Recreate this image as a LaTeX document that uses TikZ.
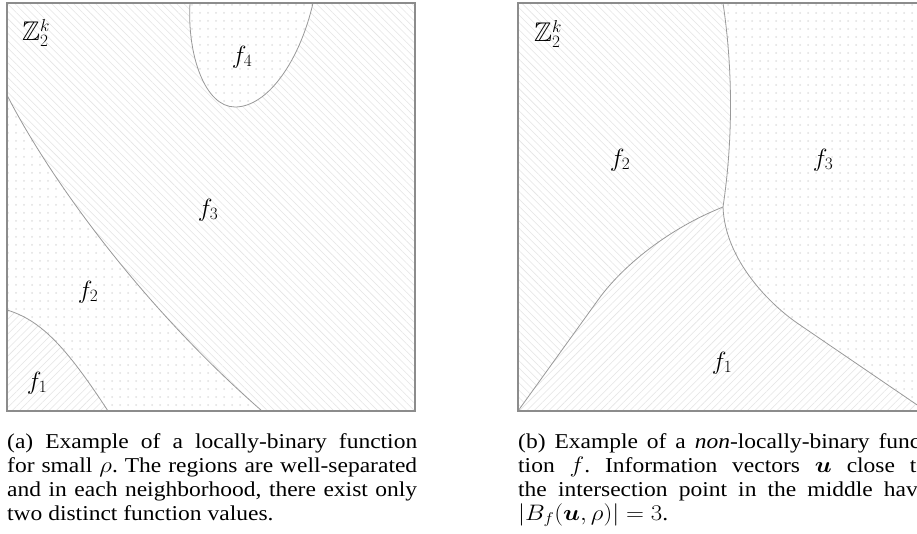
\documentclass[tikz,border=0pt]{standalone}
\usepackage{amsmath}
\usepackage{amssymb}
\usepackage{graphicx}
\usepackage{fontspec}
\setmainfont{Liberation Serif}
\usetikzlibrary{patterns.meta}
\tikzset{
  panelbox/.style = {draw=black!45, line width=1.4pt},
  cutline/.style  = {draw=black!40, line width=0.8pt},
  hatchnw/.style  = {preaction={fill=white},
                     pattern={Lines[angle=-45,distance=5.2pt,line width=0.55pt]},
                     pattern color=black!10},
  hatchne/.style  = {preaction={fill=white},
                     pattern={Lines[angle=45,distance=5.2pt,line width=0.55pt]},
                     pattern color=black!10},
  dotsfill/.style = {preaction={fill=white},
                     pattern={Dots[distance=8pt,radius=1pt]},
                     pattern color=black!12},
  fval/.style     = {font=\fontsize{27}{27}\selectfont, inner sep=0pt},
  capt/.style     = {anchor=base west, inner sep=0pt}
}
\newcommand{\capbox}[1]{\scalebox{1}[0.9]{\parbox[t]{410pt}{\frenchspacing\fontsize{23.5}{26.7}\selectfont #1}}}

\begin{document}
\begin{tikzpicture}[x=1pt,y=-1pt]
  \useasboundingbox (0,0) rectangle (917,533);
  \clip (0,0) rectangle (917,533);

  % (a) locally-binary
  \coordinate (a-tl) at (7,3);
  \coordinate (a-br) at (415,411);
  \coordinate (a-23) at (7,95);
  \coordinate (a-32) at (262,411);
  \coordinate (a-12) at (7,310);
  \coordinate (a-21) at (108,411);
  \fill[hatchnw] (a-tl) rectangle (a-br);
  \fill[dotsfill] (a-23) -- (a-12) .. controls (40,320) and (65,345) .. (a-21) -- (a-32)
        .. controls (135,300) and (45,170) .. (a-23) -- cycle;
  \fill[hatchne] (a-12) .. controls (40,320) and (65,345) .. (a-21) -- (7,411) -- cycle;
  \fill[dotsfill] (190,3) .. controls (187,55) and (205,107) .. (235,107)
        .. controls (268,107) and (300,60) .. (313,3) -- cycle;
  \draw[cutline] (a-23) .. controls (45,170) and (135,300) .. (a-32);
  \draw[cutline] (a-12) .. controls (40,320) and (65,345) .. (a-21);
  \draw[cutline] (190,3) .. controls (187,55) and (205,107) .. (235,107)
        .. controls (268,107) and (300,60) .. (313,3);
  \draw[panelbox] (a-tl) rectangle (a-br);

  \node[fval] (a-space) at (36,33) {$\mathbb{Z}_2^k$};
  \node[fval] (a-f4) at (242,57) {$f_4$};
  \node[fval] (a-f3) at (208,210) {$f_3$};
  \node[fval] (a-f2) at (88,292) {$f_2$};
  \node[fval] (a-f1) at (37,383) {$f_1$};

  % (b) non-locally-binary
  \coordinate (b-tl) at (518,3);
  \coordinate (b-br) at (926,411);
  \coordinate (b-top) at (723,3);
  \coordinate (mid) at (723,207);
  \coordinate (b-l) at (598,300);
  \coordinate (b-r) at (800,325);
  \fill[hatchnw] (b-tl) -- (b-top) .. controls (733,70) and (733,140) .. (mid)
        .. controls (670,228) and (623,265) .. (b-l) -- (518,411) -- cycle;
  \fill[dotsfill] (b-top) -- (926,3) -- (b-br) -- (b-r) .. controls (770,305) and (725,260) .. (mid)
        .. controls (733,140) and (733,70) .. (b-top) -- cycle;
  \fill[hatchne] (518,411) -- (b-l) .. controls (623,265) and (670,228) .. (mid)
        .. controls (725,260) and (770,305) .. (b-r) -- (b-br) -- cycle;
  \draw[cutline] (b-top) .. controls (733,70) and (733,140) .. (mid);
  \draw[cutline] (mid) .. controls (670,228) and (623,265) .. (b-l) -- (518,411);
  \draw[cutline] (mid) .. controls (725,260) and (770,305) .. (b-r) -- (b-br);
  \draw[panelbox] (b-tl) rectangle (b-br);

  \node[fval] (b-space) at (548,34) {$\mathbb{Z}_2^k$};
  \node[fval] (b-f2) at (620,160) {$f_2$};
  \node[fval] (b-f3) at (823,160) {$f_3$};
  \node[fval] (b-f1) at (722,363) {$f_1$};

  % captions
  \node[capt] (cap-a) at (7,448) {\capbox{(a) Example of a locally-binary function\linebreak
    for small $\rho$. The regions are well-separated\linebreak
    and in each neighborhood, there exist only\linebreak
    two distinct function values.}};
  \node[capt] (cap-b) at (518,448) {\capbox{(b) Example of a \emph{non}-locally-binary func-\linebreak
    tion $f$. Information vectors $\boldsymbol{u}$ close to\linebreak
    the intersection point in the middle have\linebreak
    $|B_f(\boldsymbol{u},\rho)| = 3$.}};
\end{tikzpicture}
\end{document}
